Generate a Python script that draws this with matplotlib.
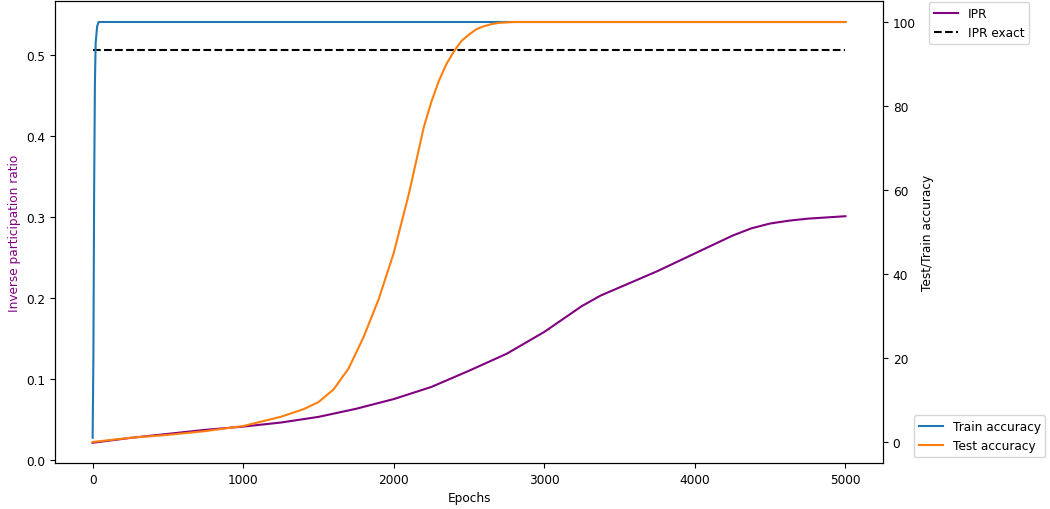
import matplotlib
matplotlib.use("Agg")
import matplotlib.pyplot as plt
import numpy as np

# IPR data (left axis)
ipr_epochs = [0, 250, 500, 750, 1000, 1250, 1500, 1750, 2000, 2250, 2500, 2750,
              3000, 3125, 3250, 3375, 3500, 3750, 4000, 4250, 4375, 4500, 4625, 4750, 5000]
ipr_values = [0.021, 0.027, 0.032, 0.037, 0.041, 0.046, 0.053, 0.063, 0.075, 0.090,
              0.110, 0.131, 0.158, 0.174, 0.190, 0.203, 0.213, 0.233, 0.255, 0.277,
              0.286, 0.292, 0.2955, 0.298, 0.301]
ipr_exact = 0.507

# Accuracy data (right axis)
train_epochs = [0, 5, 10, 15, 20, 30, 40, 5000]
train_acc = [1, 20, 60, 85, 95, 99, 100, 100]

test_epochs = [0, 250, 500, 750, 1000, 1250, 1400, 1500, 1600, 1700, 1800, 1900, 2000,
               2100, 2150, 2200, 2250, 2300, 2350, 2400, 2450, 2500, 2550, 2600, 2650,
               2700, 2800, 5000]
test_acc = [0, 1.0, 1.7, 2.6, 3.8, 6.0, 7.8, 9.5, 12.5, 17.5, 25, 34, 45,
            59, 67, 75, 81, 86, 90, 93, 95.5, 97, 98.3, 99, 99.5,
            99.8, 100, 100]

plt.rcParams['font.size'] = 8.7

fig = plt.figure(figsize=(10.5, 5.1), dpi=100)
ax = fig.add_axes([55/1050, 46/510, 828/1050, 462/510])

ax.plot(ipr_epochs, ipr_values, color='purple', label='IPR')
ax.plot([ipr_epochs[0], ipr_epochs[-1]], [ipr_exact, ipr_exact], 'k--', label='IPR exact')
ax.set_xlim(-250, 5250)
ax.set_ylim(-0.004, 0.567)
ax.set_xlabel('Epochs')
ax.set_ylabel('Inverse participation ratio', color='purple')

ax2 = ax.twinx()
ax2.plot(train_epochs, train_acc, color='C0', label='Train accuracy')
ax2.plot(test_epochs, test_acc, color='C1', label='Test accuracy')
ax2.set_ylim(-5, 105)
ax2.set_ylabel('Test/Train accuracy')

ax.legend(loc='upper left', bbox_to_anchor=(1.0556, 0.998), borderaxespad=0)
ax2.legend(loc='lower left', bbox_to_anchor=(1.0374, 0.013), borderaxespad=0)

fig.savefig('out.png', dpi=100)
